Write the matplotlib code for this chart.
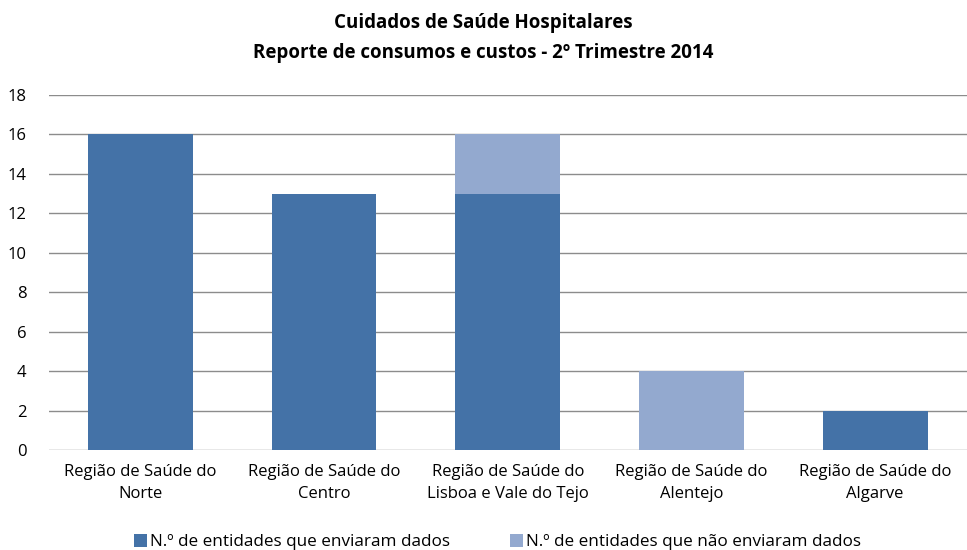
import matplotlib
matplotlib.use("Agg")
import matplotlib.pyplot as plt
import numpy as np

categories = ["Região de Saúde do\nNorte", "Região de Saúde do\nCentro",
              "Região de Saúde do\nLisboa e Vale do Tejo", "Região de Saúde do\nAlentejo",
              "Região de Saúde do\nAlgarve"]
enviaram = [16, 13, 13, 0, 2]
nao_enviaram = [0, 0, 3, 4, 0]
series_names = ["N.º de entidades que enviaram dados", "N.º de entidades que não enviaram dados"]
yticks = [0, 2, 4, 6, 8, 10, 12, 14, 16, 18]

plt.rcParams['font.family'] = ['Open Sans', 'DejaVu Sans']

fig = plt.figure(figsize=(9.67, 5.5), dpi=100)
ax = fig.add_axes([0.0502, 0.1818, 0.9498, 0.6455])

x = np.arange(len(categories))
c1 = "#4472A7"
c2 = "#93A9CF"
ax.bar(x, enviaram, width=0.57, color=c1, label=series_names[0], zorder=3)
ax.bar(x, nao_enviaram, bottom=enviaram, width=0.57, color=c2, label=series_names[1], zorder=3)

ax.set_xlim(-0.5, len(categories) - 0.5)
ax.set_ylim(0, 18)
ax.set_yticks(yticks)
ax.set_yticklabels([str(v) for v in yticks], fontsize=12)
ax.set_xticks(x)
ax.set_xticklabels(categories, fontsize=12, linespacing=1.5)
ax.tick_params(axis='both', length=0)
ax.tick_params(axis='x', pad=10)
ax.tick_params(axis='y', pad=16)
for s in ax.spines.values():
    s.set_visible(False)
ax.grid(axis='y', color='#8C8C8C', linewidth=1.0, zorder=0)
ax.set_axisbelow(True)

fig.text(0.5, 0.958, "Cuidados de Saúde Hospitalares", ha='center', va='center',
         fontsize=13.5, fontweight='bold')
fig.text(0.5, 0.903, "Reporte de consumos e custos - 2º Trimestre 2014", ha='center', va='center',
         fontsize=13.5, fontweight='bold')

leg = fig.legend(loc='center', bbox_to_anchor=(0.5145, 0.014), ncol=2, frameon=False,
                 fontsize=12.3, handlelength=0.75, handleheight=0.75, handletextpad=0.2,
                 columnspacing=3.5)

fig.savefig("out.png", dpi=100)
